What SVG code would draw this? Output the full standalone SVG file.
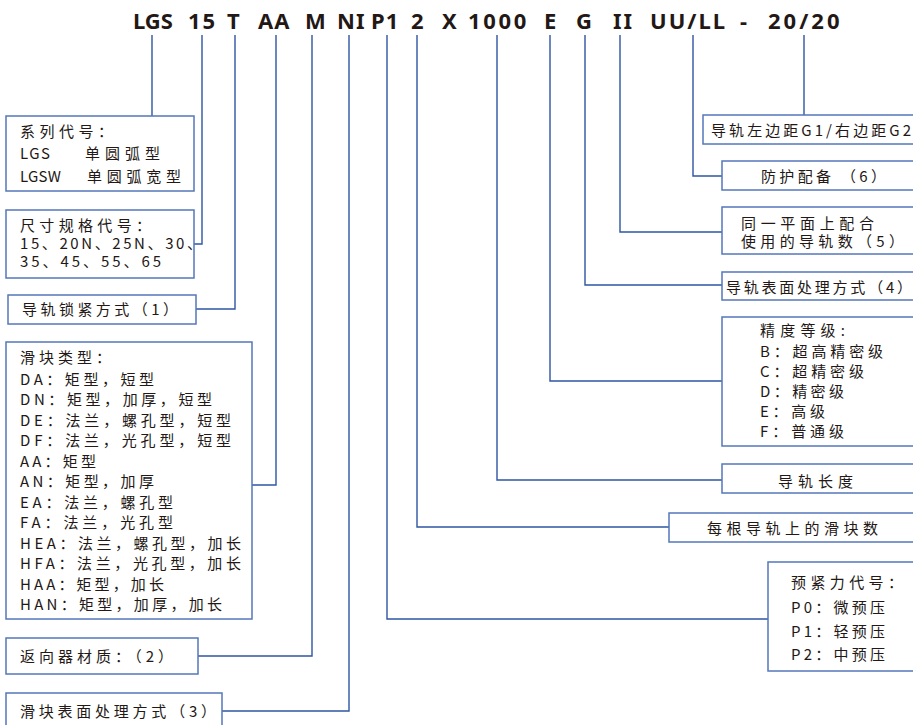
<svg xmlns="http://www.w3.org/2000/svg" width="913" height="725" viewBox="0 0 913 725">
<style>
.hd{font-family:"Noto Sans","Noto Sans CJK SC",sans-serif;font-weight:bold;font-size:22px;fill:#231815}
.t{font-family:"Noto Sans CJK SC","Noto Sans",sans-serif;font-size:15px;fill:#231815}
.box{fill:#fff;stroke:#5577bb;stroke-width:1.5}
.ln{fill:none;stroke:#2e55a3;stroke-width:1.4}
</style>
<rect width="913" height="725" fill="#fff"/>
<g id="header">
<text class="hd" x="133" y="29">LGS</text>
<text class="hd" x="188" y="29" letter-spacing="2">15</text>
<text class="hd" x="227" y="29">T</text>
<text class="hd" x="258" y="29" letter-spacing="1">AA</text>
<text class="hd" x="305" y="29">M</text>
<text class="hd" x="337" y="29" letter-spacing="1">NI</text>
<text class="hd" x="371" y="29" letter-spacing="1">P1</text>
<text class="hd" x="411" y="29">2</text>
<text class="hd" x="442" y="29">X</text>
<text class="hd" x="468" y="29" letter-spacing="2.7">1000</text>
<text class="hd" x="544" y="29">E</text>
<text class="hd" x="576" y="29">G</text>
<text class="hd" x="613" y="29" letter-spacing="2">II</text>
<text class="hd" x="650" y="29" letter-spacing="2">UU/LL</text>
<text class="hd" x="740" y="29">-</text>
<text class="hd" x="768" y="29" letter-spacing="3">20/20</text>
</g>
<g id="connectors">
<path class="ln" d="M152 35V116"/>
<path class="ln" d="M202 35V244H194"/>
<path class="ln" d="M235 35V309H196"/>
<path class="ln" d="M276 35V485H252"/>
<path class="ln" d="M312 35V656H198"/>
<path class="ln" d="M349 35V711H222"/>
<path class="ln" d="M387 35V619H768"/>
<path class="ln" d="M417 35V527H669"/>
<path class="ln" d="M497 35V480H722"/>
<path class="ln" d="M550 35V381H722"/>
<path class="ln" d="M585 35V285H722"/>
<path class="ln" d="M620 35V232H722"/>
<path class="ln" d="M693 35V176H722"/>
<path class="ln" d="M804 35V115"/>
</g>
<g id="n-series">
<rect class="box" x="6" y="116" width="188" height="75"/>
<text class="t" x="20" y="137" textLength="93" lengthAdjust="spacing">系列代号：</text>
<text class="t" x="20" y="159" textLength="30" lengthAdjust="spacing">LGS</text><text class="t" x="85" y="159" textLength="75" lengthAdjust="spacing">单圆弧型</text>
<text class="t" x="20" y="182" textLength="41" lengthAdjust="spacing">LGSW</text><text class="t" x="87" y="182" textLength="94" lengthAdjust="spacing">单圆弧宽型</text>
</g>
<g id="n-size">
<rect class="box" x="6" y="210" width="188" height="68"/>
<text class="t" x="20" y="231" textLength="131" lengthAdjust="spacing">尺寸规格代号：</text>
<text class="t" x="20" y="249" textLength="182" lengthAdjust="spacing">15、20N、25N、30、</text>
<text class="t" x="20" y="267" textLength="141" lengthAdjust="spacing">35、45、55、65</text>
</g>
<g id="n-lock">
<rect class="box" x="8" y="295" width="188" height="29"/>
<text class="t" x="22" y="315" textLength="156" lengthAdjust="spacing">导轨锁紧方式（1）</text>
</g>
<g id="n-block">
<rect class="box" x="6" y="342" width="246" height="277"/>
<text class="t" x="20" y="363" textLength="91" lengthAdjust="spacing">滑块类型：</text>
<text class="t" x="20" y="385" textLength="134" lengthAdjust="spacing">DA：矩型，短型</text>
<text class="t" x="20" y="405" textLength="192" lengthAdjust="spacing">DN：矩型，加厚，短型</text>
<text class="t" x="20" y="426" textLength="211" lengthAdjust="spacing">DE：法兰，螺孔型，短型</text>
<text class="t" x="20" y="446" textLength="211" lengthAdjust="spacing">DF：法兰，光孔型，短型</text>
<text class="t" x="20" y="467" textLength="76" lengthAdjust="spacing">AA：矩型</text>
<text class="t" x="20" y="487" textLength="134" lengthAdjust="spacing">AN：矩型，加厚</text>
<text class="t" x="20" y="508" textLength="153" lengthAdjust="spacing">EA：法兰，螺孔型</text>
<text class="t" x="20" y="528" textLength="153" lengthAdjust="spacing">FA：法兰，光孔型</text>
<text class="t" x="20" y="549" textLength="221" lengthAdjust="spacing">HEA：法兰，螺孔型，加长</text>
<text class="t" x="20" y="569" textLength="221" lengthAdjust="spacing">HFA：法兰，光孔型，加长</text>
<text class="t" x="20" y="590" textLength="144" lengthAdjust="spacing">HAA：矩型，加长</text>
<text class="t" x="20" y="610" textLength="202" lengthAdjust="spacing">HAN：矩型，加厚，加长</text>
</g>
<g id="n-return">
<rect class="box" x="6" y="638" width="192" height="36"/>
<text class="t" x="20" y="662" textLength="153" lengthAdjust="spacing">返向器材质：（2）</text>
</g>
<g id="n-blocksurface">
<rect class="box" x="6" y="693" width="216" height="40"/>
<text class="t" x="20" y="717" textLength="196" lengthAdjust="spacing">滑块表面处理方式（3）</text>
</g>
<g id="n-gap">
<rect class="box" x="703" y="115" width="215" height="29"/>
<text class="t" x="711" y="136" textLength="200" lengthAdjust="spacing">导轨左边距G1/右边距G2</text>
</g>
<g id="n-protect">
<rect class="box" x="722" y="161" width="196" height="29"/>
<text class="t" x="761" y="182" textLength="125" lengthAdjust="spacing">防护配备 （6）</text>
</g>
<g id="n-rails">
<rect class="box" x="722" y="207" width="196" height="47"/>
<text class="t" x="741" y="229" textLength="133" lengthAdjust="spacing">同一平面上配合</text>
<text class="t" x="741" y="247" textLength="163" lengthAdjust="spacing">使用的导轨数（5）</text>
</g>
<g id="n-railsurface">
<rect class="box" x="722" y="272" width="196" height="28"/>
<text class="t" x="726" y="293" textLength="186" lengthAdjust="spacing">导轨表面处理方式（4）</text>
</g>
<g id="n-accuracy">
<rect class="box" x="722" y="317" width="196" height="129"/>
<text class="t" x="760" y="336" textLength="85" lengthAdjust="spacing">精度等级:</text>
<text class="t" x="760" y="357" textLength="123" lengthAdjust="spacing">B：超高精密级</text>
<text class="t" x="760" y="377" textLength="104" lengthAdjust="spacing">C：超精密级</text>
<text class="t" x="760" y="397" textLength="84" lengthAdjust="spacing">D：精密级</text>
<text class="t" x="760" y="417" textLength="65" lengthAdjust="spacing">E：高级</text>
<text class="t" x="760" y="437" textLength="84" lengthAdjust="spacing">F：普通级</text>
</g>
<g id="n-length">
<rect class="box" x="722" y="464" width="196" height="29"/>
<text class="t" x="778" y="487" textLength="75" lengthAdjust="spacing">导轨长度</text>
</g>
<g id="n-count">
<rect class="box" x="669" y="513" width="249" height="29"/>
<text class="t" x="707" y="534" textLength="171" lengthAdjust="spacing">每根导轨上的滑块数</text>
</g>
<g id="n-preload">
<rect class="box" x="768" y="562" width="150" height="109"/>
<text class="t" x="791" y="588" textLength="112" lengthAdjust="spacing">预紧力代号：</text>
<text class="t" x="791" y="613" textLength="94" lengthAdjust="spacing">P0：微预压</text>
<text class="t" x="791" y="637" textLength="94" lengthAdjust="spacing">P1：轻预压</text>
<text class="t" x="791" y="660" textLength="94" lengthAdjust="spacing">P2：中预压</text>
</g>
</svg>
